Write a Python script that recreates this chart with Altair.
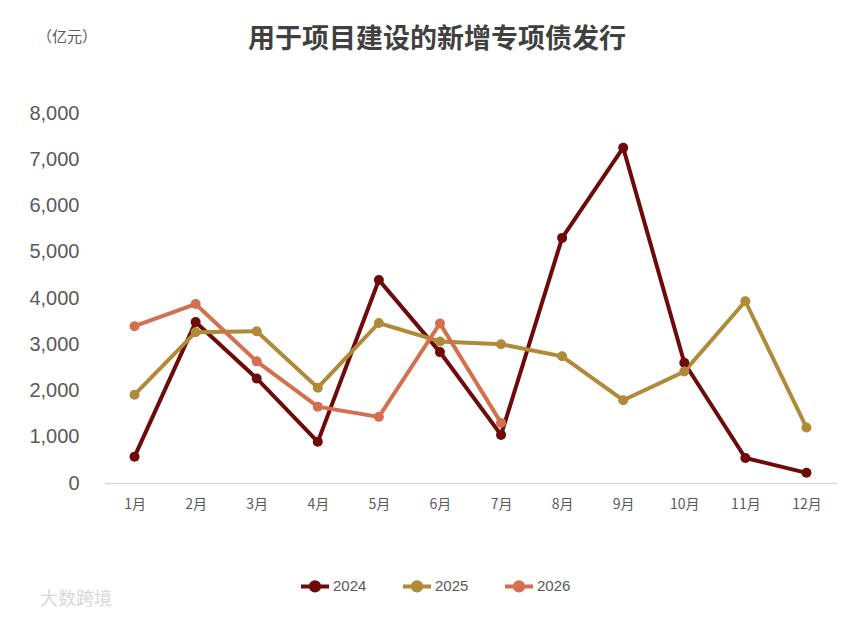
import altair as alt
import pandas as pd

months = ["1月", "2月", "3月", "4月", "5月", "6月", "7月", "8月", "9月", "10月", "11月", "12月"]
s2024 = [570, 3480, 2260, 890, 4390, 2830, 1040, 5300, 7250, 2600, 540, 220]
s2025 = [1910, 3260, 3280, 2060, 3460, 3060, 3000, 2740, 1790, 2410, 3930, 1200]
s2026 = [3390, 3870, 2630, 1650, 1430, 3450, 1300]
years = ["2024", "2025", "2026"]
colors = ["#6E0A0A", "#B08A38", "#D4704F"]
title_text = "用于项目建设的新增专项债发行"
unit_text = "（亿元）"
watermark_text = "大数跨境"

rows = []
for yr, vals in zip(years, [s2024, s2025, s2026]):
    for m, v in zip(months, vals):
        rows.append({"month": m, "value": v, "year": yr})
df = pd.DataFrame(rows)

legend_symbol = "M-1,0H1M-0.3,0A0.3,0.3 0 1 1 0.3,0A0.3,0.3 0 1 1 -0.3,0Z"

x = alt.X("month:N", sort=months,
          scale=alt.Scale(type="point", padding=0.5),
          axis=alt.Axis(title=None, labelAngle=0, labelFontSize=14, labelColor="#595959",
                        labelFont="Noto Sans CJK SC", ticks=False, domainColor="#D9D9D9",
                        domainWidth=1.5, labelPadding=14))
y = alt.Y("value:Q", scale=alt.Scale(domain=[0, 8000], nice=False),
          axis=alt.Axis(title=None,
                        values=[0, 1000, 2000, 3000, 4000, 5000, 6000, 7000, 8000],
                        format=",d", labelFontSize=20, labelColor="#595959",
                        labelFont="Liberation Sans", domain=False, ticks=False,
                        grid=False, labelPadding=25))
color = alt.Color("year:N", scale=alt.Scale(domain=years, range=colors),
                  legend=alt.Legend(title=None, orient="none", legendX=195, legendY=457,
                                    direction="horizontal", symbolType=legend_symbol,
                                    symbolSize=784, symbolStrokeWidth=4,
                                    labelFontSize=15, labelColor="#595959",
                                    labelFont="Liberation Sans", columnPadding=28,
                                    labelOffset=2))

base = alt.Chart(df).encode(x=x, y=y, color=color, order=alt.Order("year:N"))
lines = base.mark_line(strokeWidth=4)
points = base.mark_circle(size=100, opacity=1)

title = alt.Chart(pd.DataFrame({"t": [title_text]})).mark_text(
    fontSize=27, fontWeight="bold", color="#404040", font="Noto Sans CJK SC",
    align="center", baseline="middle"
).encode(text="t:N", x=alt.value(333), y=alt.value(-73))

unit = alt.Chart(pd.DataFrame({"t": [unit_text]})).mark_text(
    fontSize=15, color="#595959", font="Noto Sans CJK SC",
    align="center", baseline="middle"
).encode(text="t:N", x=alt.value(-37), y=alt.value(-76))

watermark = alt.Chart(pd.DataFrame({"t": [watermark_text]})).mark_text(
    fontSize=18, color="#D8D8D8", font="Noto Sans CJK SC", align="left", baseline="middle"
).encode(text="t:N", x=alt.value(-64), y=alt.value(487))

chart = (lines + points + title + unit + watermark).properties(
    width=733, height=370,
    autosize=alt.AutoSizeParams(type="none"),
    padding={"left": 96, "top": 105, "right": 12, "bottom": 135},
).configure(background="white").configure_view(stroke=None)

chart.save("out.html", embed_options={"renderer": "svg", "actions": False})
